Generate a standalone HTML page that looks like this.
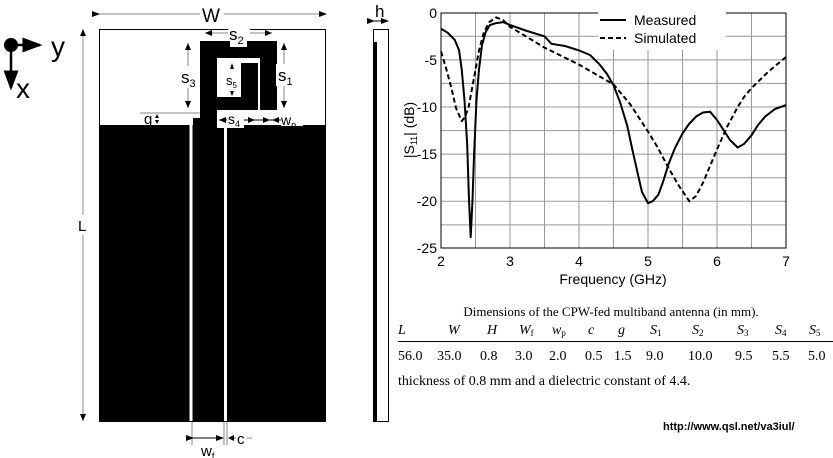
<!DOCTYPE html>
<html><head><meta charset="utf-8"><style>
body{margin:0;background:#fff;width:833px;height:458px;overflow:hidden}
svg{display:block}
.s{font-family:"Liberation Sans",sans-serif}
.t{font-family:"Liberation Serif",serif}
</style></head><body>
<svg width="833" height="458" viewBox="0 0 833 458" xmlns="http://www.w3.org/2000/svg">
<defs><marker id="a" markerWidth="8" markerHeight="6" refX="7" refY="3" orient="auto"><path d="M0,0 L8,3 L0,6z" fill="#000"/></marker></defs>
<circle cx="11" cy="45" r="7" fill="#000"/>
<line x1="11" y1="45" x2="40" y2="45" stroke="#000" stroke-width="2.5" marker-end="url(#a)"/>
<line x1="11" y1="45" x2="11" y2="88" stroke="#000" stroke-width="2.5" marker-end="url(#a)"/>
<text x="51" y="56" class="s" font-size="28">y</text>
<text x="16" y="98" class="s" font-size="28">x</text>
<line x1="99" y1="14" x2="200" y2="14" stroke="#888" marker-start="url(#a)"/>
<line x1="224" y1="14" x2="326" y2="14" stroke="#888" marker-end="url(#a)"/>
<text x="202" y="22" class="s" font-size="19">W</text>
<line x1="83" y1="30" x2="83" y2="215" stroke="#888"/>
<line x1="83" y1="235" x2="83" y2="421" stroke="#888"/>
<path d="M80,36 L83,29 L86,36z M80,414 L83,421 L86,414z"/>
<text x="78" y="231" class="s" font-size="15">L</text>
<rect x="99.5" y="29.5" width="226" height="392" fill="#fff" stroke="#000"/>
<rect x="99" y="125" width="227" height="296" fill="#000"/>
<rect x="189.5" y="125" width="3" height="296" fill="#fff"/>
<rect x="224" y="125" width="3" height="296" fill="#fff"/>
<path d="M200,41 H277 V110 H260 V58 H217 V97 H241 V63 H258 V110 H200z" fill="#000"/>
<rect x="230" y="41" width="17" height="6" fill="#fff"/>
<rect x="200" y="110" width="17" height="16" fill="#000"/>
<rect x="193" y="118" width="31" height="8" fill="#000"/>
<rect x="217" y="112" width="26" height="16" fill="#fff"/>
<line x1="140" y1="113" x2="200" y2="113" stroke="#888"/>
<line x1="205" y1="33" x2="272" y2="33" stroke="#888"/>
<path d="M205,33 l7,-3 v6z M272,33 l-7,-3 v6z"/>
<rect x="228" y="26" width="22" height="14" fill="#fff"/>
<text x="229" y="40" class="s" font-size="17">s<tspan font-size="11" dy="4">2</tspan></text>
<line x1="188" y1="43" x2="188" y2="108" stroke="#888"/>
<path d="M188,43 l-3,7 h6z M188,108 l-3,-7 h6z"/>
<rect x="180" y="66" width="20" height="22" fill="#fff"/>
<text x="181" y="83" class="s" font-size="17">s<tspan font-size="11" dy="4">3</tspan></text>
<line x1="284" y1="43" x2="284" y2="108" stroke="#888"/>
<path d="M284,43 l-3,7 h6z M284,108 l-3,-7 h6z"/>
<rect x="276" y="64" width="20" height="22" fill="#fff"/>
<text x="278" y="81" class="s" font-size="17">s<tspan font-size="11" dy="4">1</tspan></text>
<path d="M232,63 l-2,6 h4z M232,96 l-2,-5 h4z"/>
<text x="226" y="85" class="s" font-size="13">s<tspan font-size="8" dy="3">5</tspan></text>
<path d="M219,120 l7,-3 v6z M255,120 l-7,-3 v6z M270,120 l-7,-3 v6z M272,120 l7,-3 v6z"/>
<line x1="219" y1="120" x2="290" y2="120" stroke="#000"/>
<rect x="227" y="112" width="17" height="16" fill="#fff"/>
<text x="228" y="124" class="s" font-size="14">s<tspan font-size="9" dy="3">4</tspan></text>
<rect x="281" y="112" width="22" height="14" fill="#fff"/>
<text x="281" y="125" class="s" font-size="14">w<tspan font-size="9" dy="3">p</tspan></text>
<text x="144" y="124" class="s" font-size="15">g</text>
<path d="M157,114 l-2,4 h4z M157,124 l-2,-4 h4z"/>
<line x1="192" y1="422" x2="192" y2="445" stroke="#888"/>
<line x1="224" y1="422" x2="224" y2="445" stroke="#888"/>
<line x1="227" y1="422" x2="227" y2="445" stroke="#888"/>
<line x1="193" y1="438" x2="223" y2="438" stroke="#000" marker-start="url(#a)" marker-end="url(#a)"/>
<path d="M228,438 l6,-3 v6z"/>
<line x1="234" y1="438" x2="252" y2="438" stroke="#888"/>
<text x="201" y="456" class="s" font-size="15">w<tspan font-size="9" dy="3">f</tspan></text>
<rect x="236" y="430" width="11" height="14" fill="#fff"/>
<text x="237" y="444" class="s" font-size="15">c</text>
<rect x="373.5" y="29.5" width="15" height="392" fill="#fff" stroke="#000"/>
<rect x="373" y="42" width="4" height="379" fill="#000"/>
<line x1="374" y1="21" x2="388" y2="21" stroke="#000" marker-start="url(#a)" marker-end="url(#a)"/>
<text x="375" y="17" class="s" font-size="17">h</text>
<g stroke="#999" stroke-width="1">
<line x1="475.5" y1="13" x2="475.5" y2="248"/><line x1="510" y1="13" x2="510" y2="248"/><line x1="544.5" y1="13" x2="544.5" y2="248"/><line x1="579" y1="13" x2="579" y2="248"/><line x1="613.5" y1="13" x2="613.5" y2="248"/><line x1="648" y1="13" x2="648" y2="248"/><line x1="682.5" y1="13" x2="682.5" y2="248"/><line x1="717" y1="13" x2="717" y2="248"/><line x1="751.5" y1="13" x2="751.5" y2="248"/>
<line x1="441" y1="36.3" x2="786" y2="36.3"/><line x1="441" y1="59.9" x2="786" y2="59.9"/><line x1="441" y1="83.4" x2="786" y2="83.4"/><line x1="441" y1="107" x2="786" y2="107"/><line x1="441" y1="130.6" x2="786" y2="130.6"/><line x1="441" y1="154.1" x2="786" y2="154.1"/><line x1="441" y1="177.7" x2="786" y2="177.7"/><line x1="441" y1="201.3" x2="786" y2="201.3"/><line x1="441" y1="224.9" x2="786" y2="224.9"/>
</g>
<rect x="441" y="13" width="345" height="235" fill="none" stroke="#000"/>
<polyline fill="none" stroke="#000" stroke-width="2" stroke-linejoin="round" points="441,28.7 448,33 454.8,40 459,50 461.7,69.3 464.5,100 467.2,144.7 469,200 470.7,237.1 472.5,200 474.1,154.1 476.5,100 479,69.3 482,45 485.9,31.6 490,25 496.2,23.1 503.1,22.1 510,25 527,31 544.5,36.3 551.4,43.8 565,46 579,50.4 590,55 599.7,64.6 607,74 613.5,85.3 620,102 627.3,125.9 632,148 637.6,173 642,192 648,203.2 653,201 658.4,194.7 663,182 668.7,163.6 675,148 682.5,133.4 689,124 696.3,116.4 703,112.5 710.1,111.7 717,120 723.9,130.6 730,140 737.7,147.5 744,144 751.5,135.3 758,125 765.3,116.4 775,109 786,105.1"/>
<polyline fill="none" stroke="#000" stroke-width="2" stroke-dasharray="5,3" stroke-linejoin="round" points="441,51.4 446,68 451.4,88.1 456,108 461.7,121.1 465,117 468.6,107 474,78 479,50.4 484,32 489.3,22.1 496.2,17.4 503.1,20.2 510,26.8 544.5,47.6 579,64.6 613.5,84.4 630,104 648,131.5 658,148 668.7,168.3 679,186 689.4,201.3 696,196 703.2,182.4 710,166 717,149.4 727,127 737.7,107 744,97 751.5,88.1 768,72 786,57"/>
<rect x="598" y="12" width="128" height="38" fill="#fff"/>
<line x1="600" y1="20" x2="626" y2="20" stroke="#000" stroke-width="2"/>
<line x1="600" y1="38" x2="626" y2="38" stroke="#000" stroke-width="2" stroke-dasharray="5,3"/>
<text x="634" y="25" class="s" font-size="14">Measured</text>
<text x="634" y="43" class="s" font-size="14">Simulated</text>
<g class="s" font-size="14" text-anchor="end">
<text x="437" y="18">0</text><text x="437" y="65">-5</text><text x="437" y="112">-10</text><text x="437" y="159">-15</text><text x="437" y="206">-20</text><text x="437" y="253">-25</text>
</g>
<g class="s" font-size="14" text-anchor="middle">
<text x="441" y="266">2</text><text x="510" y="266">3</text><text x="579" y="266">4</text><text x="648" y="266">5</text><text x="717" y="266">6</text><text x="786" y="266">7</text>
<text x="613" y="284">Frequency (GHz)</text>
</g>
<text transform="translate(414,130) rotate(-90)" class="s" font-size="14" text-anchor="middle">|S<tspan font-size="9" dy="3">11</tspan><tspan dy="-3">| (dB)</tspan></text>
<text x="611" y="316" class="t" font-size="13" text-anchor="middle">Dimensions of the CPW-fed multiband antenna (in mm).</text>
<g class="t" font-size="14" font-style="italic">
<text x="398" y="334">L</text><text x="448" y="334">W</text><text x="487" y="334">H</text><text x="519" y="334">W<tspan font-size="9" dy="2" font-style="normal">f</tspan></text><text x="552" y="334">w<tspan font-size="9" dy="2" font-style="normal">p</tspan></text><text x="588" y="334">c</text><text x="618" y="334">g</text><text x="650" y="334">S<tspan font-size="9" dy="2" font-style="normal">1</tspan></text><text x="692" y="334">S<tspan font-size="9" dy="2" font-style="normal">2</tspan></text><text x="737" y="334">S<tspan font-size="9" dy="2" font-style="normal">3</tspan></text><text x="775" y="334">S<tspan font-size="9" dy="2" font-style="normal">4</tspan></text><text x="809" y="334">S<tspan font-size="9" dy="2" font-style="normal">5</tspan></text>
</g>
<line x1="398" y1="341.5" x2="833" y2="341.5" stroke="#000"/>
<g class="t" font-size="14">
<text x="398" y="360">56.0</text><text x="437" y="360">35.0</text><text x="480" y="360">0.8</text><text x="515" y="360">3.0</text><text x="549" y="360">2.0</text><text x="585" y="360">0.5</text><text x="614" y="360">1.5</text><text x="646" y="360">9.0</text><text x="688" y="360">10.0</text><text x="735" y="360">9.5</text><text x="772" y="360">5.5</text><text x="808" y="360">5.0</text>
<text x="398" y="385">thickness of 0.8 mm and a dielectric constant of 4.4.</text>
</g>
<text x="663" y="430" class="s" font-size="11" font-weight="bold">http://www.qsl.net/va3iul/</text>
</svg>
</body></html>
